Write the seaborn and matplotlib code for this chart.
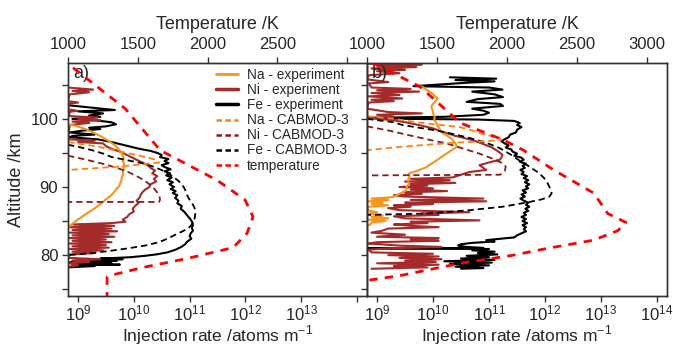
import numpy as np
import matplotlib
matplotlib.use("Agg")
import matplotlib.pyplot as plt
from matplotlib.lines import Line2D
from matplotlib.ticker import NullLocator
import seaborn as sns

sns.set_style("ticks")
plt.rcParams['font.family'] = ['Liberation Sans', 'DejaVu Sans']
plt.rcParams['mathtext.fontset'] = 'custom'
plt.rcParams['mathtext.rm'] = 'Liberation Sans'

# ---------------- data (altitude km, log10 injection rate atoms m^-1) ----------------
# Panel a
fe_exp_a_alt = [102.0, 101.6, 101.3, 101.1, 100.8, 100.5, 100.3, 100.0, 99.8, 99.5, 99.2, 98.9, 98.7, 98.5, 98.3, 98.0,
                97.7, 97.5, 97.3, 97.0, 96.6, 96.2, 95.9, 95.6, 95.3, 95.0, 94.7, 94.4, 94.1, 93.8, 93.5, 93.2,
                92.9, 92.6, 92.3, 92.0, 91.7, 91.4, 91.0, 90.7, 90.4, 90.0, 89.7, 89.4, 89.1, 88.8, 88.4, 88.0,
                87.6, 87.2, 86.8, 86.4, 86.0, 85.6, 85.2, 84.8, 84.4, 84.0, 83.6, 83.2, 82.8, 82.4, 82.0, 81.6,
                81.2, 80.8, 80.4, 80.1, 79.9, 79.7, 79.6, 79.5, 79.4, 79.3, 79.2, 79.1, 79.0, 78.9, 78.8, 78.7,
                78.6, 78.5, 78.4, 78.2]
fe_exp_a_log = [8.82, 9.3, 9.66, 9.0, 9.45, 9.2, 9.4, 8.9, 9.3, 9.6, 9.68, 9.5, 9.2, 9.4, 9.1, 8.85,
                9.3, 8.9, 8.85, 9.35, 9.6, 9.8, 9.95, 10.1, 10.3, 10.42, 10.5, 10.47, 10.62, 10.55, 10.62, 10.5,
                10.56, 10.66, 10.55, 10.65, 10.58, 10.68, 10.6, 10.7, 10.64, 10.72, 10.66, 10.75, 10.7, 10.78, 10.74, 10.8,
                10.78, 10.86, 10.84, 10.9, 10.94, 10.98, 11.02, 11.05, 11.06, 11.04, 11.06, 11.02, 11.0, 11.03, 10.96, 10.92,
                10.85, 10.75, 10.6, 10.4, 10.2, 9.95, 9.7, 9.4, 9.8, 9.0, 9.7, 8.9, 9.5, 8.85, 9.6, 9.0,
                9.75, 8.9, 9.3, 8.82]

ni_exp_a_alt = [104.6, 104.3, 104.1, 103.9, 103.6, 102.6, 102.4, 102.2, 101.4, 101.2, 101.0, 100.4, 100.2, 100.0,
                99.8, 99.6, 99.4, 99.1, 97.0, 96.8, 96.6, 96.4, 96.0, 95.6, 95.2, 94.8, 94.4, 94.0, 93.6, 93.2,
                92.8, 92.4, 92.0, 91.6, 91.2, 90.8, 90.4, 90.0, 89.6, 89.2, 88.8, 88.4, 88.0, 87.6, 87.2, 86.8,
                86.4, 86.0, 85.6, 85.2, 84.9, 84.7, 84.5, 84.3, 84.1, 83.9, 83.7, 83.5, 83.3, 83.1, 82.9, 82.7,
                82.5, 82.3, 82.1, 81.9, 81.7, 81.5, 81.3, 81.1, 80.9, 80.7, 80.5, 80.3, 80.1, 79.6, 79.4, 79.2,
                79.0, 78.8, 78.5, 78.3]
ni_exp_a_log = [8.82, 9.27, 8.9, 9.2, 8.85, 8.82, 9.0, 8.84, 8.82, 8.98, 8.84, 8.85, 9.35, 9.0,
                9.4, 8.9, 9.2, 8.85, 8.82, 9.3, 9.0, 9.45, 9.5, 9.6, 9.75, 9.85, 9.95, 10.05, 10.15, 10.25,
                10.3, 10.38, 10.33, 10.42, 10.36, 10.4, 10.3, 10.28, 10.2, 10.15, 10.12, 10.1, 10.05, 10.08, 10.02, 9.98,
                10.0, 9.92, 9.88, 9.8, 9.85, 9.6, 8.9, 9.65, 8.85, 9.6, 8.9, 9.7, 8.85, 9.55, 8.9, 9.65,
                8.85, 9.5, 8.9, 9.6, 8.85, 9.5, 8.9, 9.55, 8.85, 9.45, 8.9, 9.3, 8.85, 8.82, 9.4, 8.9,
                9.2, 8.85, 9.0, 8.82]

na_exp_a_alt = [99.2, 99.0, 98.6, 98.2, 97.8, 97.4, 97.0, 96.6, 96.2, 95.8, 95.4, 95.0, 94.6, 94.2, 93.8, 93.4,
                93.0, 92.6, 92.2, 91.8, 91.4, 91.0, 90.6, 90.2, 89.8, 89.4, 89.0, 88.6, 88.2, 87.8, 87.4, 87.0,
                86.6, 86.2, 85.8, 85.4, 85.0, 84.6, 84.2, 84.0]
na_exp_a_log = [8.82, 8.95, 9.1, 9.22, 9.32, 9.42, 9.5, 9.58, 9.65, 9.7, 9.74, 9.78, 9.8, 9.82, 9.8, 9.83,
                9.81, 9.82, 9.8, 9.81, 9.78, 9.78, 9.76, 9.74, 9.7, 9.66, 9.62, 9.57, 9.5, 9.45, 9.38, 9.32,
                9.25, 9.17, 9.1, 9.03, 8.96, 8.9, 8.84, 8.82]

fe_mod_a_alt = [96.2, 95.9, 95.4, 94.9, 94.4, 93.9, 93.4, 92.9, 92.4, 91.9, 91.4, 90.9, 90.4, 89.9, 89.4, 88.9,
                88.4, 87.9, 87.4, 86.9, 86.4, 85.9, 85.4, 84.9, 84.4, 83.9, 83.4, 82.9, 82.4, 81.9, 81.4, 81.0,
                80.6, 80.3, 80.0]
fe_mod_a_log = [8.82, 9.0, 9.25, 9.45, 9.6, 9.9, 10.2, 10.38, 10.52, 10.63, 10.72, 10.8, 10.86, 10.9, 10.93, 10.95,
                10.98, 11.02, 11.06, 11.09, 11.1, 11.1, 11.09, 11.07, 11.03, 10.97, 10.85, 10.72, 10.6, 10.45, 10.2, 9.9,
                9.55, 9.25, 8.82]

ni_mod_a_alt = [94.6, 94.0, 93.4, 92.8, 92.2, 91.6, 91.0, 90.4, 89.8, 89.2, 88.6, 88.1, 87.8, 87.8]
ni_mod_a_log = [8.82, 9.15, 9.45, 9.7, 9.9, 10.05, 10.18, 10.28, 10.36, 10.42, 10.46, 10.47, 10.45, 8.82]

na_mod_a_alt = [96.6, 96.0, 95.5, 95.1, 94.6, 94.1, 93.6, 93.3, 93.0, 92.7, 92.5]
na_mod_a_log = [8.82, 9.3, 9.6, 9.81, 10.1, 10.35, 10.45, 10.1, 9.75, 9.2, 8.82]

temp_a_alt = [107.5, 101.5, 95.4, 91.0, 88.1, 85.6, 83.2, 81.1, 79.5, 78.2, 77.0, 76.8, 74.0]
temp_a_K = [1036, 1410, 1660, 2068, 2269, 2326, 2283, 2183, 1853, 1538, 1301, 1280, 1280]

# Panel b
fe_exp_b_alt = [106.1, 105.9, 105.7, 105.5, 105.3, 104.8, 104.6, 104.3, 104.0, 103.6, 103.2, 102.9, 102.5, 102.2,
                101.9, 101.5, 101.2, 100.9, 100.6, 100.3, 100.15, 100.0, 99.9, 99.7, 99.4, 99.1, 98.8, 98.4,
                98.0, 97.7, 97.3, 97.0, 96.7, 96.4, 96.1, 95.8, 95.5, 95.2, 94.9, 94.6, 94.3, 94.0, 93.7, 93.4,
                93.1, 92.8, 92.5, 92.2, 91.9, 91.6, 91.3, 91.0, 90.7, 90.4, 90.1, 89.8, 89.5, 89.2, 88.9, 88.6,
                88.3, 88.0, 87.7, 87.4, 87.1, 86.8, 86.5, 86.2, 85.9, 85.6, 85.3, 85.0, 84.7, 84.4, 84.1, 83.8,
                83.5, 83.2, 82.9, 82.6, 82.4, 82.2, 82.0, 81.8, 81.6, 81.4, 81.2, 81.05, 81.0, 80.9, 80.7, 80.5,
                80.3, 80.1, 79.9, 79.7, 79.5, 79.3, 79.1, 78.9, 78.7, 78.5, 78.3, 78.1, 78.0]
fe_exp_b_log = [10.3, 11.13, 10.4, 11.1, 10.6, 9.65, 11.0, 11.24, 10.7, 11.1, 11.25, 10.8, 10.6, 11.2,
                11.25, 10.7, 10.9, 11.0, 10.9, 10.2, 8.82, 9.5, 10.8, 11.45, 11.55, 11.5, 11.58, 11.5,
                11.48, 11.38, 11.35, 11.28, 11.22, 11.28, 11.35, 11.3, 11.4, 11.42, 11.5, 11.45, 11.58, 11.62, 11.55, 11.66,
                11.6, 11.64, 11.56, 11.62, 11.58, 11.68, 11.62, 11.7, 11.64, 11.72, 11.66, 11.7, 11.6, 11.66, 11.58, 11.64,
                11.56, 11.62, 11.7, 11.66, 11.72, 11.65, 11.7, 11.62, 11.66, 11.58, 11.66, 11.6, 11.68, 11.6, 11.66, 11.62,
                11.66, 11.58, 11.5, 11.45, 11.2, 10.95, 11.1, 10.7, 10.5, 10.45, 10.6, 10.9, 8.82, 11.0, 10.7, 11.1,
                10.8, 11.15, 10.6, 11.0, 10.5, 11.1, 10.2, 11.05, 10.3, 11.0, 10.4, 10.9, 10.5]

ni_exp_b_alt = [108.1, 108.0, 107.8, 107.6, 107.4, 107.2, 107.0, 106.7, 106.4, 105.8, 105.4, 105.2, 104.6, 104.4,
                104.2, 104.0, 103.8, 103.5, 103.3, 103.0, 102.8, 102.6, 102.4, 101.5, 101.0, 100.8, 100.6, 100.3,
                100.1, 99.8, 99.4, 99.0, 98.6, 98.1, 97.5, 96.9, 96.3, 95.8, 95.4, 95.0, 94.7, 94.3, 94.0, 93.6,
                93.2, 92.8, 92.5, 92.2, 91.8, 91.4, 91.2, 91.0, 90.8, 90.6, 90.4, 90.2, 90.0, 89.8, 89.6, 89.4,
                89.2, 89.0, 88.8, 88.6, 88.3, 88.1, 87.9, 87.7, 87.5, 87.3, 87.1, 86.9, 86.6, 86.3, 86.1, 85.9,
                85.7, 85.4, 85.1, 84.9, 84.7, 84.5, 84.3, 84.1, 83.9, 83.6, 83.3, 83.0, 82.7, 82.5, 82.3, 82.1,
                81.9, 81.7, 81.4, 81.2, 81.0, 80.8, 80.4, 80.2, 80.0, 79.8, 79.6, 79.4, 79.2, 79.0, 78.8, 78.6,
                78.4, 78.2, 78.0]
ni_exp_b_log = [8.82, 9.8, 9.0, 9.7, 8.9, 9.5, 9.0, 9.4, 8.85, 8.82, 9.2, 8.85, 8.9, 9.6,
                9.0, 9.75, 8.9, 9.4, 8.85, 9.45, 8.9, 9.3, 8.85, 8.82, 9.2, 9.8, 9.0, 9.3,
                8.85, 9.3, 9.57, 9.8, 10.0, 10.17, 10.4, 10.7, 10.9, 11.05, 11.13, 11.2, 11.24, 11.22, 11.19, 11.0,
                10.83, 10.9, 10.95, 10.65, 10.5, 10.35, 9.6, 10.3, 9.5, 10.4, 9.6, 9.9, 9.4, 10.0, 9.6, 10.25,
                9.5, 9.8, 9.3, 9.5, 10.9, 9.6, 10.95, 9.5, 10.0, 9.3, 9.6, 9.2, 9.4, 10.65, 9.8, 10.1,
                9.3, 9.5, 10.83, 9.6, 9.9, 9.3, 9.6, 10.1, 9.2, 9.1, 8.9, 9.5, 9.0, 10.1, 9.6, 10.1,
                9.0, 8.85, 9.4, 10.15, 9.2, 8.85, 8.9, 10.0, 9.2, 10.1, 9.4, 10.15, 9.5, 10.05, 9.0, 10.1,
                9.3, 9.9, 8.9]

na_exp_b_alt = [104.8, 104.2, 103.6, 103.0, 102.6, 102.2, 101.8, 101.3, 100.8, 100.3, 99.8, 99.4, 99.0, 98.5,
                97.9, 97.4, 96.9, 96.4, 95.9, 95.5, 94.9, 94.4, 93.9, 93.4, 92.9, 92.4, 92.0, 91.5, 91.0, 90.5,
                90.0, 89.5, 89.0, 88.5, 88.3, 88.1, 87.9, 87.7, 87.5, 87.3, 87.1, 86.6, 86.3, 86.1, 85.8, 85.6,
                85.4, 85.2, 85.0, 84.8, 84.5, 84.3]
na_exp_b_log = [9.8, 9.9, 10.0, 10.08, 10.05, 10.0, 9.97, 9.99, 10.0, 10.03, 10.02, 10.06, 10.08, 10.12,
                10.17, 10.28, 10.35, 10.4, 10.43, 10.35, 10.24, 10.15, 10.06, 9.97, 9.88, 9.72, 9.57, 9.58, 9.55, 9.57,
                9.53, 9.52, 9.4, 9.27, 8.9, 9.2, 8.85, 9.1, 8.9, 9.2, 8.85, 8.82, 9.0, 8.85, 9.1, 8.9,
                9.2, 8.85, 9.15, 8.9, 8.88, 8.82]

fe_mod_b_alt = [100.0, 99.5, 99.1, 98.7, 98.3, 97.8, 97.2, 96.5, 95.7, 94.8, 93.9, 93.0, 92.0, 91.0, 90.0, 89.1,
                88.6, 88.2, 87.8, 87.4, 87.1, 86.6, 86.1, 85.9]
fe_mod_b_log = [8.82, 9.3, 9.45, 9.75, 10.06, 10.35, 10.65, 10.95, 11.19, 11.38, 11.54, 11.72, 11.9, 12.02, 12.08, 12.12,
                12.08, 11.95, 11.72, 11.45, 11.24, 10.65, 9.88, 8.82]

ni_mod_b_alt = [98.9, 98.3, 97.6, 96.9, 96.4, 95.6, 94.9, 94.2, 93.5, 93.0, 92.3, 91.8, 91.7]
ni_mod_b_log = [8.82, 9.2, 9.57, 9.95, 10.24, 10.55, 10.83, 11.05, 11.24, 11.3, 11.28, 11.2, 8.82]

na_mod_b_alt = [100.4, 100.0, 99.4, 98.8, 98.3, 97.9, 97.2, 96.9, 96.7, 96.5, 96.2, 95.8, 95.4]
na_mod_b_log = [8.82, 9.3, 9.81, 10.47, 10.7, 10.83, 11.19, 11.22, 10.9, 10.4, 9.9, 9.3, 8.82]

temp_b_alt = [108.2, 104.7, 99.4, 96.9, 95.4, 92.5, 89.1, 86.1, 84.8, 83.6, 82.2, 81.0, 80.0, 78.8, 77.0, 76.3]
temp_b_K = [1043, 1380, 1667, 1975, 2118, 2333, 2620, 2720, 2849, 2792, 2620, 2290, 2047, 1667, 1237, 1007]

# axis ticks
alt_major = [80, 90, 100]
alt_minor = [75, 85, 95, 105]
inj_ticks = [1e9, 1e10, 1e11, 1e12, 1e13, 1e14]
inj_labels_b = [r'$\mathdefault{10^{%d}}$' % e for e in range(9, 15)]
inj_labels_a = inj_labels_b[:5] + ['']
temp_ticks = [1000, 1500, 2000, 2500, 3000]
temp_labels_a = ['1000', '1500', '2000', '2500', '']
temp_labels_b = ['1000', '1500', '2000', '2500', '3000']

# ---------------- styling ----------------
C_NA_EXP = '#f7941d'
C_NI_EXP = '#a52a2a'
C_FE_EXP = '#000000'
C_NA_MOD = '#ff7f0e'
C_NI_MOD = '#8b1a1a'
C_FE_MOD = '#000000'
C_TEMP = '#ff0000'
LW_EXP = 1.5
LW_MOD = 1.3
DASH_MOD = (0, (3.5, 2.2))
DASH_T = (0, (3, 2.6))

fig = plt.figure(figsize=(6.73, 3.48), dpi=100)
W, H = 673, 348
ax_a = fig.add_axes([68 / W, 52 / H, 299 / W, 233 / H])
ax_b = fig.add_axes([367 / W, 52 / H, 300 / W, 233 / H])

XLIM = (10 ** 8.82, 10 ** 14.18)
TLIM = (1000, 3143)
YLIM = (74, 108.2)


def draw(ax, series, temp_alt, temp_K, letter, inj_labels, temp_labels, show_y):
    for alt, lg, color, lw, ls in series:
        sns.lineplot(x=10 ** np.array(lg), y=alt, ax=ax, sort=False, estimator=None,
                     color=color, lw=lw, linestyle=ls)
    ax.set_xscale('log')
    ax.set_xlim(*XLIM)
    ax.set_ylim(*YLIM)
    ax.set_xticks(inj_ticks)
    ax.set_xticklabels(inj_labels)
    ax.xaxis.set_minor_locator(NullLocator())
    ax.set_yticks(alt_major)
    ax.set_yticks(alt_minor, minor=True)
    if show_y:
        ax.set_yticklabels([str(v) for v in alt_major])
        ax.set_ylabel('Altitude /km', fontsize=13, labelpad=4)
    else:
        ax.set_yticklabels([])
        ax.set_ylabel('')
    ax.set_xlabel('Injection rate /atoms m$^{-1}$', fontsize=12.5, labelpad=0)
    ax.tick_params(axis='both', which='both', direction='out', length=4, width=1,
                   labelsize=12, pad=3, color='#333333')
    ax.tick_params(axis='x', pad=1.5)
    ax.tick_params(axis='y', which='minor', labelleft=False)
    for s in ax.spines.values():
        s.set_color('#333333')
        s.set_linewidth(1)
    axt = ax.twiny()
    sns.lineplot(x=temp_K, y=temp_alt, ax=axt, sort=False, estimator=None,
                 color=C_TEMP, lw=2.0, linestyle=DASH_T)
    axt.set_xlim(*TLIM)
    axt.set_ylim(*YLIM)
    axt.set_xticks(temp_ticks)
    axt.set_xticklabels(temp_labels)
    axt.xaxis.set_minor_locator(NullLocator())
    axt.set_xlabel('Temperature /K', fontsize=13, labelpad=6)
    axt.set_ylabel('')
    axt.tick_params(axis='x', direction='out', length=4, width=1, labelsize=12, pad=4,
                    color='#333333')
    for s in axt.spines.values():
        s.set_color('#333333')
        s.set_linewidth(1)
    ax.text(0.017, 0.953, letter, transform=ax.transAxes, fontsize=13, ha='left', va='center')
    return axt


series_a = [
    (fe_exp_a_alt, fe_exp_a_log, C_FE_EXP, LW_EXP, '-'),
    (ni_exp_a_alt, ni_exp_a_log, C_NI_EXP, LW_EXP, '-'),
    (na_exp_a_alt, na_exp_a_log, C_NA_EXP, LW_EXP, '-'),
    (fe_mod_a_alt, fe_mod_a_log, C_FE_MOD, LW_MOD, DASH_MOD),
    (ni_mod_a_alt, ni_mod_a_log, C_NI_MOD, LW_MOD, DASH_MOD),
    (na_mod_a_alt, na_mod_a_log, C_NA_MOD, LW_MOD, DASH_MOD),
]
series_b = [
    (fe_exp_b_alt, fe_exp_b_log, C_FE_EXP, LW_EXP, '-'),
    (ni_exp_b_alt, ni_exp_b_log, C_NI_EXP, LW_EXP, '-'),
    (na_exp_b_alt, na_exp_b_log, C_NA_EXP, LW_EXP, '-'),
    (fe_mod_b_alt, fe_mod_b_log, C_FE_MOD, LW_MOD, DASH_MOD),
    (ni_mod_b_alt, ni_mod_b_log, C_NI_MOD, LW_MOD, DASH_MOD),
    (na_mod_b_alt, na_mod_b_log, C_NA_MOD, LW_MOD, DASH_MOD),
]

draw(ax_a, series_a, temp_a_alt, temp_a_K, 'a)', inj_labels_a, temp_labels_a, True)
draw(ax_b, series_b, temp_b_alt, temp_b_K, 'b)', inj_labels_b, temp_labels_b, False)

legend_labels = ['Na - experiment', 'Ni - experiment', 'Fe - experiment',
                 'Na - CABMOD-3', 'Ni - CABMOD-3', 'Fe - CABMOD-3', 'temperature']
handles = [
    Line2D([], [], color=C_NA_EXP, lw=2),
    Line2D([], [], color=C_NI_EXP, lw=2.5),
    Line2D([], [], color=C_FE_EXP, lw=2.5),
    Line2D([], [], color=C_NA_MOD, lw=1.8, linestyle=(0, (2.2, 1.4))),
    Line2D([], [], color=C_NI_MOD, lw=1.8, linestyle=(0, (2.2, 1.4))),
    Line2D([], [], color=C_FE_MOD, lw=1.8, linestyle=(0, (2.2, 1.4))),
    Line2D([], [], color=C_TEMP, lw=1.8, linestyle=(0, (2.2, 1.4))),
]
fig.legend(handles, legend_labels, loc='upper left', bbox_to_anchor=(216 / W, 1 - 68 / H),
           frameon=False, fontsize=9.8, handlelength=1.6, handletextpad=0.7,
           labelspacing=0.08, borderpad=0, borderaxespad=0)

fig.savefig('out.png', dpi=100)
